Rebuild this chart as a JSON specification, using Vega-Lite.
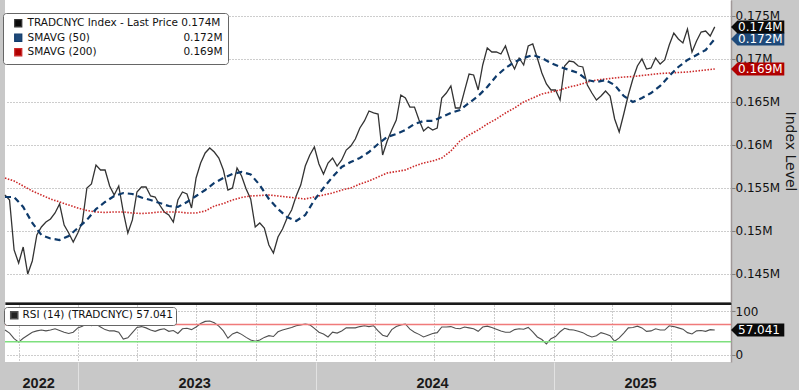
{
 "$schema": "https://vega.github.io/schema/vega-lite/v6.json",
 "background": "#c8c8c8",
 "padding": {"left": 0, "top": 0, "right": 2, "bottom": 0},
 "bounds": "flush",
 "spacing": 3,
 "config": {"font": "DejaVu Sans", "view": {"stroke": null}},
 "resolve": {"scale": {"color": "independent", "fill": "independent"}, "legend": {"color": "independent"}},
 "datasets": {
  "weekly": [
   {"date":"2022-09-10","price":154150,"rsi":57},{"date":"2022-09-17","price":153570,"rsi":50},{"date":"2022-09-24","price":147760,"rsi":37},{"date":"2022-10-01","price":146240,"rsi":29},{"date":"2022-10-08","price":148100,"rsi":38},{"date":"2022-10-15","price":144960,"rsi":45},{"date":"2022-10-22","price":146480,"rsi":52},{"date":"2022-10-29","price":149500,"rsi":55},{"date":"2022-11-05","price":150430,"rsi":57},{"date":"2022-11-12","price":151010,"rsi":55},{"date":"2022-11-19","price":151360,"rsi":57},{"date":"2022-11-26","price":152060,"rsi":60},{"date":"2022-12-03","price":153100,"rsi":56},{"date":"2022-12-10","price":150660,"rsi":52},{"date":"2022-12-17","price":149730,"rsi":49},{"date":"2022-12-24","price":148690,"rsi":52},{"date":"2022-12-31","price":149730,"rsi":62},
   {"date":"2023-01-07","price":151010,"rsi":66},{"date":"2023-01-14","price":154970,"rsi":72},{"date":"2023-01-21","price":155430,"rsi":67},{"date":"2023-01-28","price":157640,"rsi":71},{"date":"2023-02-04","price":157060,"rsi":64},{"date":"2023-02-11","price":157060,"rsi":58},{"date":"2023-02-18","price":155200,"rsi":55},{"date":"2023-02-25","price":154150,"rsi":55},{"date":"2023-03-04","price":155200,"rsi":52},{"date":"2023-03-11","price":152180,"rsi":36},{"date":"2023-03-18","price":149730,"rsi":39},{"date":"2023-03-25","price":151250,"rsi":51},{"date":"2023-04-01","price":154500,"rsi":63},{"date":"2023-04-08","price":155080,"rsi":65},{"date":"2023-04-15","price":155080,"rsi":62},{"date":"2023-04-22","price":154040,"rsi":57},{"date":"2023-04-29","price":153920,"rsi":54},{"date":"2023-05-06","price":152990,"rsi":58},{"date":"2023-05-13","price":152180,"rsi":60},{"date":"2023-05-20","price":151830,"rsi":54},{"date":"2023-05-27","price":151010,"rsi":56},{"date":"2023-06-03","price":153570,"rsi":49},{"date":"2023-06-10","price":154500,"rsi":60},{"date":"2023-06-17","price":154270,"rsi":61},{"date":"2023-06-24","price":152640,"rsi":58},{"date":"2023-07-01","price":156130,"rsi":64},{"date":"2023-07-08","price":157870,"rsi":72},{"date":"2023-07-15","price":159040,"rsi":77},{"date":"2023-07-22","price":159620,"rsi":78},{"date":"2023-07-29","price":159150,"rsi":74},{"date":"2023-08-05","price":158450,"rsi":66},{"date":"2023-08-12","price":157060,"rsi":55},{"date":"2023-08-19","price":154730,"rsi":38},{"date":"2023-08-26","price":154970,"rsi":48},{"date":"2023-09-02","price":157290,"rsi":52},{"date":"2023-09-09","price":156360,"rsi":47},{"date":"2023-09-16","price":154850,"rsi":40},{"date":"2023-09-23","price":153690,"rsi":34},{"date":"2023-09-30","price":150430,"rsi":31},{"date":"2023-10-07","price":150900,"rsi":34},{"date":"2023-10-14","price":150310,"rsi":40},{"date":"2023-10-21","price":148340,"rsi":44},{"date":"2023-10-28","price":147410,"rsi":42},{"date":"2023-11-04","price":149270,"rsi":53},{"date":"2023-11-11","price":150200,"rsi":57},{"date":"2023-11-18","price":151480,"rsi":60},{"date":"2023-11-25","price":152410,"rsi":63},{"date":"2023-12-02","price":154040,"rsi":67},{"date":"2023-12-09","price":155310,"rsi":69},{"date":"2023-12-16","price":157520,"rsi":71},{"date":"2023-12-23","price":158800,"rsi":69},{"date":"2023-12-30","price":159730,"rsi":61},
   {"date":"2024-01-06","price":157760,"rsi":52},{"date":"2024-01-13","price":156590,"rsi":48},{"date":"2024-01-20","price":157870,"rsi":41},{"date":"2024-01-27","price":158450,"rsi":52},{"date":"2024-02-03","price":157520,"rsi":50},{"date":"2024-02-10","price":158220,"rsi":55},{"date":"2024-02-17","price":159380,"rsi":62},{"date":"2024-02-24","price":159850,"rsi":62},{"date":"2024-03-02","price":160660,"rsi":62},{"date":"2024-03-09","price":161940,"rsi":65},{"date":"2024-03-16","price":162760,"rsi":67},{"date":"2024-03-23","price":163920,"rsi":65},{"date":"2024-03-30","price":163690,"rsi":67},{"date":"2024-04-06","price":163570,"rsi":55},{"date":"2024-04-13","price":158800,"rsi":45},{"date":"2024-04-20","price":160430,"rsi":42},{"date":"2024-04-27","price":161710,"rsi":58},{"date":"2024-05-04","price":162870,"rsi":65},{"date":"2024-05-11","price":165780,"rsi":69},{"date":"2024-05-18","price":165430,"rsi":71},{"date":"2024-05-25","price":164380,"rsi":59},{"date":"2024-06-01","price":164380,"rsi":52},{"date":"2024-06-08","price":162870,"rsi":47},{"date":"2024-06-15","price":161590,"rsi":41},{"date":"2024-06-22","price":162060,"rsi":45},{"date":"2024-06-29","price":161710,"rsi":49},{"date":"2024-07-06","price":161940,"rsi":51},{"date":"2024-07-13","price":165430,"rsi":64},{"date":"2024-07-20","price":166010,"rsi":64},{"date":"2024-07-27","price":166830,"rsi":65},{"date":"2024-08-03","price":164270,"rsi":61},{"date":"2024-08-10","price":164270,"rsi":60},{"date":"2024-08-17","price":166250,"rsi":64},{"date":"2024-08-24","price":168220,"rsi":62},{"date":"2024-08-31","price":168110,"rsi":60},{"date":"2024-09-07","price":166360,"rsi":54},{"date":"2024-09-14","price":169270,"rsi":64},{"date":"2024-09-21","price":171250,"rsi":66},{"date":"2024-09-28","price":170780,"rsi":63},{"date":"2024-10-05","price":170780,"rsi":59},{"date":"2024-10-12","price":170550,"rsi":55},{"date":"2024-10-19","price":171480,"rsi":52},{"date":"2024-10-26","price":169850,"rsi":52},{"date":"2024-11-02","price":168800,"rsi":58},{"date":"2024-11-09","price":170080,"rsi":60},{"date":"2024-11-16","price":169270,"rsi":59},{"date":"2024-11-23","price":171480,"rsi":63},{"date":"2024-11-30","price":171710,"rsi":53},{"date":"2024-12-07","price":170080,"rsi":41},{"date":"2024-12-14","price":168340,"rsi":35},{"date":"2024-12-21","price":167060,"rsi":25},{"date":"2024-12-28","price":166360,"rsi":37},
   {"date":"2025-01-04","price":166360,"rsi":42},{"date":"2025-01-11","price":165200,"rsi":53},{"date":"2025-01-18","price":169150,"rsi":61},{"date":"2025-01-25","price":169730,"rsi":58},{"date":"2025-02-01","price":169620,"rsi":57},{"date":"2025-02-08","price":169150,"rsi":54},{"date":"2025-02-15","price":169040,"rsi":51},{"date":"2025-02-22","price":166940,"rsi":45},{"date":"2025-03-01","price":166010,"rsi":41},{"date":"2025-03-08","price":165200,"rsi":44},{"date":"2025-03-15","price":165660,"rsi":51},{"date":"2025-03-22","price":166250,"rsi":48},{"date":"2025-03-29","price":165660,"rsi":44},{"date":"2025-04-05","price":162990,"rsi":31},{"date":"2025-04-12","price":161480,"rsi":39},{"date":"2025-04-19","price":163570,"rsi":50},{"date":"2025-04-26","price":165780,"rsi":62},{"date":"2025-05-03","price":167640,"rsi":63},{"date":"2025-05-10","price":169150,"rsi":66},{"date":"2025-05-17","price":169970,"rsi":62},{"date":"2025-05-24","price":168800,"rsi":54},{"date":"2025-05-31","price":168920,"rsi":55},{"date":"2025-06-07","price":170080,"rsi":60},{"date":"2025-06-14","price":169380,"rsi":57},{"date":"2025-06-21","price":169850,"rsi":57},{"date":"2025-06-28","price":171590,"rsi":67},{"date":"2025-07-05","price":172990,"rsi":65},{"date":"2025-07-12","price":172290,"rsi":62},{"date":"2025-07-19","price":171830,"rsi":59},{"date":"2025-07-26","price":173450,"rsi":51},{"date":"2025-08-02","price":170780,"rsi":48},{"date":"2025-08-09","price":172060,"rsi":55},{"date":"2025-08-16","price":173100,"rsi":56},{"date":"2025-08-23","price":173220,"rsi":54},{"date":"2025-08-30","price":172640,"rsi":58},{"date":"2025-09-06","price":173700,"rsi":57.041}
  ],
  "sma": [
   {"date":"2022-09-10","sma50":153920,"sma200":156130},{"date":"2022-09-24","sma50":153920,"sma200":155780},{"date":"2022-10-08","sma50":152760,"sma200":155200},{"date":"2022-10-22","sma50":150900,"sma200":154620},{"date":"2022-11-05","sma50":149500,"sma200":154150},{"date":"2022-11-19","sma50":149090,"sma200":153690},{"date":"2022-12-03","sma50":148920,"sma200":153340},{"date":"2022-12-17","sma50":149380,"sma200":152990},{"date":"2022-12-31","sma50":150310,"sma200":152640},
   {"date":"2023-01-14","sma50":151250,"sma200":152350},{"date":"2023-01-28","sma50":152520,"sma200":152180},{"date":"2023-02-11","sma50":153340,"sma200":152120},{"date":"2023-02-25","sma50":154040,"sma200":152180},{"date":"2023-03-11","sma50":154380,"sma200":152180},{"date":"2023-03-25","sma50":154270,"sma200":152060},{"date":"2023-04-08","sma50":153860,"sma200":152000},{"date":"2023-04-22","sma50":153570,"sma200":152060},{"date":"2023-05-06","sma50":153220,"sma200":152180},{"date":"2023-05-20","sma50":152870,"sma200":152180},{"date":"2023-06-03","sma50":152760,"sma200":152180},{"date":"2023-06-17","sma50":153340,"sma200":152060},{"date":"2023-07-01","sma50":154040,"sma200":152060},{"date":"2023-07-15","sma50":154730,"sma200":152290},{"date":"2023-07-29","sma50":155550,"sma200":152870},{"date":"2023-08-12","sma50":156130,"sma200":153160},{"date":"2023-08-26","sma50":156590,"sma200":153570},{"date":"2023-09-09","sma50":156830,"sma200":153860},{"date":"2023-09-23","sma50":156540,"sma200":154040},{"date":"2023-10-07","sma50":155310,"sma200":154090},{"date":"2023-10-21","sma50":153690,"sma200":154150},{"date":"2023-11-04","sma50":152520,"sma200":154040},{"date":"2023-11-18","sma50":151590,"sma200":153920},{"date":"2023-12-02","sma50":151130,"sma200":153800},{"date":"2023-12-16","sma50":151830,"sma200":153690},{"date":"2023-12-30","sma50":153570,"sma200":153920},
   {"date":"2024-01-13","sma50":154970,"sma200":154150},{"date":"2024-01-27","sma50":156250,"sma200":154380},{"date":"2024-02-10","sma50":157410,"sma200":154730},{"date":"2024-02-24","sma50":157990,"sma200":154970},{"date":"2024-03-09","sma50":158450,"sma200":155430},{"date":"2024-03-23","sma50":159150,"sma200":155780},{"date":"2024-04-06","sma50":160080,"sma200":156250},{"date":"2024-04-20","sma50":160900,"sma200":156710},{"date":"2024-05-04","sma50":161250,"sma200":156880},{"date":"2024-05-18","sma50":161710,"sma200":157060},{"date":"2024-06-01","sma50":162410,"sma200":157520},{"date":"2024-06-15","sma50":162760,"sma200":157870},{"date":"2024-06-29","sma50":162760,"sma200":158110},{"date":"2024-07-13","sma50":163220,"sma200":158450},{"date":"2024-07-27","sma50":163690,"sma200":159270},{"date":"2024-08-10","sma50":164040,"sma200":160430},{"date":"2024-08-24","sma50":164850,"sma200":161130},{"date":"2024-09-07","sma50":165660,"sma200":161710},{"date":"2024-09-21","sma50":166710,"sma200":162410},{"date":"2024-10-05","sma50":167990,"sma200":162990},{"date":"2024-10-19","sma50":168920,"sma200":163690},{"date":"2024-11-02","sma50":169620,"sma200":164270},{"date":"2024-11-16","sma50":170080,"sma200":164970},{"date":"2024-11-30","sma50":170430,"sma200":165430},{"date":"2024-12-14","sma50":170080,"sma200":165900},{"date":"2024-12-28","sma50":169500,"sma200":166130},
   {"date":"2025-01-11","sma50":169040,"sma200":166360},{"date":"2025-01-25","sma50":168690,"sma200":166710},{"date":"2025-02-08","sma50":168340,"sma200":166940},{"date":"2025-02-22","sma50":167520,"sma200":167290},{"date":"2025-03-08","sma50":167290,"sma200":167520},{"date":"2025-03-22","sma50":167520,"sma200":167640},{"date":"2025-04-05","sma50":166940,"sma200":167760},{"date":"2025-04-19","sma50":165660,"sma200":167870},{"date":"2025-05-03","sma50":164970,"sma200":167930},{"date":"2025-05-17","sma50":165430,"sma200":168050},{"date":"2025-05-31","sma50":166010,"sma200":168160},{"date":"2025-06-14","sma50":166830,"sma200":168280},{"date":"2025-06-28","sma50":167990,"sma200":168340},{"date":"2025-07-12","sma50":169040,"sma200":168400},{"date":"2025-07-26","sma50":169850,"sma200":168450},{"date":"2025-08-09","sma50":170430,"sma200":168570},{"date":"2025-08-23","sma50":171010,"sma200":168690},{"date":"2025-09-06","sma50":172300,"sma200":168800}
  ],
  "tags": [
   {"date":"2025-10-01","value":172300,"label":"0.172M","s":"s50"},
   {"date":"2025-10-01","value":173700,"label":"0.174M","s":"p"},
   {"date":"2025-10-01","value":168800,"label":"0.169M","s":"s200"}
  ],
  "rsitag": [{"date":"2025-10-01","value":57.041,"label":"57.041"}],
  "levels": [{"level":70,"zone":"over"},{"level":30,"zone":"under"}]
 },
 "vconcat": [
  {
   "width": 726,
   "height": 302,
   "view": {"fill": "white", "stroke": null},
   "layer": [
    {
     "data": {"name": "weekly"},
     "mark": {"type": "line", "strokeWidth": 1.3},
     "encoding": {
      "x": {"field": "date", "type": "temporal",
            "scale": {"domain": [{"year":2022,"month":9,"date":10},{"year":2025,"month":10,"date":1}]},
            "axis": {"orient": "bottom", "title": null, "labels": false, "ticks": false, "grid": false, "domain": true, "domainColor": "#1a1a1a", "domainWidth": 3, "offset": 1.5}},
      "y": {"field": "price", "type": "quantitative",
            "scale": {"domain": [141710, 176826], "nice": false, "zero": false},
            "axis": {"orient": "right", "values": [145000,150000,155000,160000,165000,170000,175000],
                     "labelExpr": "format(datum.value / 1000000, '.3~f') + 'M'",
                     "grid": true, "gridDash": [1,2], "gridColor": "#9a9a9a", "gridWidth": 1,
                     "tickSize": 4, "tickColor": "#808080", "domainColor": "#a09898", "domainWidth": 1.5,
                     "labelFont": "DejaVu Sans", "labelFontSize": 12, "labelColor": "#111111", "labelPadding": 0,
                     "title": "Index Level", "titleFont": "DejaVu Sans", "titleFontSize": 14, "titleFontWeight": "normal", "titleColor": "#1a1a1a", "titlePadding": 3,
                     "zindex": 0}},
      "color": {"datum": "p", "type": "nominal",
                "scale": {"domain": ["p","s50","s200"], "range": ["#333333","#0e3a6b","#cc2a2a"]},
                "legend": {"orient": "none", "legendX": -2, "legendY": 13, "title": null,
                           "symbolType": "square", "symbolSize": 50, "symbolStrokeWidth": 1.2,
                           "labelExpr": "datum.value == 'p' ? 'TRADCNYC Index - Last Price 0.174M' : datum.value == 's50' ? 'SMAVG (50)' + pad('', 28, '\u00a0') + '0.172M' : 'SMAVG (200)' + pad('', 26, '\u00a0') + '0.169M'",
                           "labelFont": "DejaVu Sans", "labelFontSize": 10.5, "labelColor": "#111111", "labelLimit": 400,
                           "fillColor": "white", "strokeColor": "#666666", "cornerRadius": 3, "padding": 5,
                           "rowPadding": 1.5, "symbolOffset": 5, "labelOffset": 4,
                           "encode": {"symbols": {"update": {"fill": {"condition": {"test": "datum.value === 'p'", "value": "#111111"}, "value": "#ffffff"}}}}}}
     }
    },
    {
     "data": {"name": "sma"},
     "mark": {"type": "line", "strokeWidth": 1.6, "strokeDash": [1.5, 1.5]},
     "encoding": {
      "x": {"field": "date", "type": "temporal"},
      "y": {"field": "sma200", "type": "quantitative"},
      "color": {"datum": "s200", "type": "nominal"}
     }
    },
    {
     "data": {"name": "sma"},
     "mark": {"type": "line", "strokeWidth": 2.2, "strokeDash": [6, 4]},
     "encoding": {
      "x": {"field": "date", "type": "temporal"},
      "y": {"field": "sma50", "type": "quantitative"},
      "color": {"datum": "s50", "type": "nominal"}
     }
    },
    {
     "data": {"name": "tags"},
     "mark": {"type": "point", "shape": "M0,0L1,-1L8.2,-1L8.2,1L1,1Z", "size": 169, "filled": true, "opacity": 1, "strokeWidth": 0},
     "encoding": {
      "x": {"field": "date", "type": "temporal"},
      "y": {"field": "value", "type": "quantitative"},
      "fill": {"field": "s", "type": "nominal", "scale": {"domain": ["p","s50","s200"], "range": ["#0a0a0a","#1f4a7a","#b00000"]}, "legend": null}
     }
    },
    {
     "data": {"name": "tags"},
     "mark": {"type": "text", "align": "left", "baseline": "middle", "dx": 7, "color": "#ffffff", "fontSize": 12, "font": "DejaVu Sans"},
     "encoding": {
      "x": {"field": "date", "type": "temporal"},
      "y": {"field": "value", "type": "quantitative"},
      "text": {"field": "label"}
     }
    }
   ]
  },
  {
   "width": 726,
   "height": 57,
   "view": {"fill": "white", "stroke": null},
   "layer": [
    {
     "data": {"name": "weekly"},
     "mark": {"type": "line", "strokeWidth": 1.1},
     "encoding": {
      "x": {"field": "date", "type": "temporal",
            "scale": {"domain": [{"year":2022,"month":9,"date":10},{"year":2025,"month":10,"date":1}]},
            "axis": {"orient": "bottom", "title": null, "format": "%Y",
                     "values": [{"year":2022,"month":10,"date":1},{"year":2022,"month":10,"date":31},{"year":2023,"month":1,"date":1},{"year":2023,"month":4,"date":1},{"year":2023,"month":6,"date":28},{"year":2023,"month":7,"date":1},{"year":2023,"month":10,"date":1},{"year":2024,"month":1,"date":1},{"year":2024,"month":4,"date":1},{"year":2024,"month":6,"date":28},{"year":2024,"month":7,"date":1},{"year":2024,"month":10,"date":1},{"year":2025,"month":1,"date":1},{"year":2025,"month":4,"date":1},{"year":2025,"month":5,"date":14},{"year":2025,"month":7,"date":1}],
                     "labelExpr": "date(datum.value) == 1 ? '' : timeFormat(datum.value, '%Y')",
                     "labelOverlap": false, "labelBound": false, "labelFlush": false,
                     "labelFont": "Liberation Sans", "labelFontSize": 14.5, "labelFontWeight": "bold", "labelColor": "#1a1a1a", "labelPadding": -13.5,
                     "grid": true, "gridDash": [1,2], "gridColor": "#9a9a9a",
                     "gridOpacity": {"condition": {"test": "date(datum.value) == 1", "value": 1}, "value": 0},
                     "ticks": true, "tickSize": 28, "tickColor": "#e2e2e2", "tickWidth": 1,
                     "tickOpacity": {"condition": {"test": "date(datum.value) == 1 && month(datum.value) == 0", "value": 1}, "value": 0},
                     "domain": false}},
      "y": {"field": "rsi", "type": "quantitative",
            "scale": {"domain": [-17, 115], "nice": false, "zero": false},
            "axis": {"orient": "right", "values": [0, 50, 100], "title": null,
                     "labelExpr": "datum.value == 50 ? '' : datum.label",
                     "grid": true, "gridDash": [1,2], "gridColor": "#9a9a9a",
                     "tickSize": 4, "tickColor": "#808080", "domainColor": "#a09898", "domainWidth": 1.5,
                     "labelFont": "DejaVu Sans", "labelFontSize": 12, "labelColor": "#111111", "labelPadding": 0, "zindex": 0}},
      "color": {"datum": "r", "type": "nominal",
                "scale": {"domain": ["r"], "range": ["#505050"]},
                "legend": {"orient": "none", "legendX": -1, "legendY": 2, "title": null,
                           "symbolType": "square", "symbolSize": 50,
                           "labelExpr": "'RSI (14) (TRADCNYC) 57.041'",
                           "labelFont": "DejaVu Sans", "labelFontSize": 10.5, "labelColor": "#111111", "labelLimit": 400,
                           "fillColor": "white", "strokeColor": "#666666", "cornerRadius": 3, "padding": 3,
                           "symbolOffset": 2, "labelOffset": 3,
                           "encode": {"symbols": {"update": {"fill": {"value": "#222222"}}}}}}
     }
    },
    {
     "data": {"name": "levels"},
     "mark": {"type": "rule", "strokeWidth": 1.5},
     "encoding": {
      "y": {"field": "level", "type": "quantitative"},
      "stroke": {"field": "zone", "type": "nominal", "scale": {"domain": ["over","under"], "range": ["#f07a7a","#7ee07e"]}, "legend": null}
     }
    },
    {
     "data": {"name": "rsitag"},
     "mark": {"type": "point", "shape": "M0,0L1,-1L8.2,-1L8.2,1L1,1Z", "size": 169, "filled": true, "opacity": 1, "strokeWidth": 0, "color": "#0a0a0a"},
     "encoding": {
      "x": {"field": "date", "type": "temporal"},
      "y": {"field": "value", "type": "quantitative"}
     }
    },
    {
     "data": {"name": "rsitag"},
     "mark": {"type": "text", "align": "left", "baseline": "middle", "dx": 7, "color": "#ffffff", "fontSize": 12, "font": "DejaVu Sans"},
     "encoding": {
      "x": {"field": "date", "type": "temporal"},
      "y": {"field": "value", "type": "quantitative"},
      "text": {"field": "label"}
     }
    }
   ]
  }
 ]
}
